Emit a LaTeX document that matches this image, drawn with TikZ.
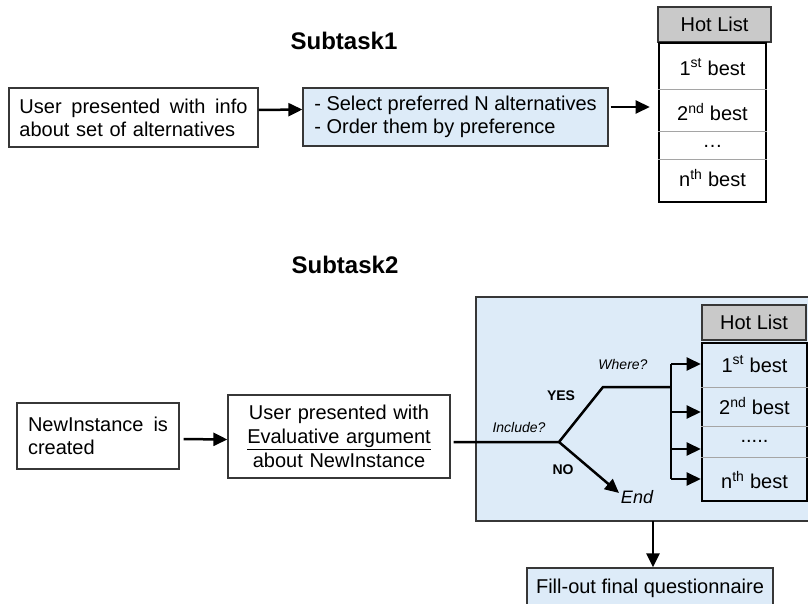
\documentclass[tikz,border=0pt]{standalone}
\usepackage{fontspec}
\setmainfont{Liberation Sans}
\usetikzlibrary{arrows.meta}
\definecolor{lblue}{RGB}{221,235,248}
\definecolor{hgray}{RGB}{201,201,201}
\definecolor{bord}{RGB}{55,55,55}
\definecolor{sepc}{RGB}{165,165,165}
\begin{document}
\begin{tikzpicture}[x=1pt,y=-1pt,
  box/.style={draw=bord, line width=1.3pt, inner sep=0pt, font=\fontsize{20}{23}\selectfont},
  arr/.style={line width=2.5pt, -{Triangle[length=14pt,width=13pt]}},
  ln/.style={line width=2.5pt, line join=round},
  head/.style={draw=bord, line width=1.3pt, fill=hgray, inner sep=0pt, font=\fontsize{20}{23}\selectfont},
  hlist/.style={draw=black, line width=2.6pt, inner sep=0pt},
  sepline/.style={draw=sepc, line width=0.8pt},
  row/.style={inner sep=0pt, font=\fontsize{20}{23}\selectfont},
  lab/.style={inner sep=0pt, font=\fontsize{14}{16}\selectfont\itshape},
  blab/.style={inner sep=0pt, font=\fontsize{14}{16}\selectfont\bfseries},
  title/.style={inner sep=0pt, font=\fontsize{24}{28}\selectfont\bfseries}]
\useasboundingbox (0,0) rectangle (808,604);
\clip (0,0) rectangle (808,604);

% ---------- Subtask 1 ----------
\node[title] (t1) at (344,41) {Subtask1};
\node[box, minimum width=249pt, minimum height=59pt, text width=228pt, align=left] (b1) at (133.5,117.5)
  {User\hfill presented\hfill with\hfill info\\about set of alternatives};
\node[box, fill=lblue, minimum width=305pt, minimum height=58pt, align=left] (b2) at (455.5,117)
  {- Select preferred N alternatives\\- Order them by preference};
\draw[arr] ([yshift=7.5pt]b1.east) -- ([yshift=7.5pt]b2.west);

\node[head, minimum width=113pt, minimum height=35pt] (h1) at (714.5,24.5) {Hot List};
\node[hlist, minimum width=107pt, minimum height=159pt] (l1) at (712.5,122.5) {};
\draw[sepline] (l1.west |- 0,89) -- (l1.east |- 0,89);
\draw[sepline] (l1.west |- 0,131) -- (l1.east |- 0,131);
\draw[sepline] (l1.west |- 0,159) -- (l1.east |- 0,159);
\node[row] (r11) at (712.5,67) {1\textsuperscript{st} best};
\node[row] (r12) at (712.5,112) {2\textsuperscript{nd} best};
\node[row] (r13) at (712.5,146) {\dots};
\node[row] (r14) at (712.5,178) {n\textsuperscript{th} best};
\coordinate (a2s) at ([xshift=2pt,yshift=10pt]b2.east);
\draw[arr, shorten >=8pt] (a2s) -- (a2s -| l1.west);

% ---------- Subtask 2 ----------
\node[title] (t2) at (345,265) {Subtask2};
\node[box, minimum width=162pt, minimum height=66pt, text width=140pt, align=left] (n1) at (98,436)
  {NewInstance\hfill is\\created};
\node[box, minimum width=222pt, minimum height=83pt, text width=205pt, align=center,
      font=\fontsize{20}{24}\selectfont] (n2) at (339,436.5)
  {User presented with\\\underline{Evaluative argument}\\about NewInstance};
\draw[arr, shorten <=4pt] ([yshift=-3pt]n1.east) -- ([yshift=-3pt]n2.west);

\node[draw=bord, line width=1.3pt, fill=lblue, minimum width=340pt, minimum height=224pt, inner sep=0pt] (bb) at (646,409) {};

\node[head, minimum width=104pt, minimum height=35pt] (h2) at (754,322.5) {Hot List};
\node[hlist, fill=lblue, minimum width=105pt, minimum height=158pt] (l2) at (754.5,422) {};
\draw[sepline] (l2.west |- 0,387) -- (l2.east |- 0,387);
\draw[sepline] (l2.west |- 0,426) -- (l2.east |- 0,426);
\draw[sepline] (l2.west |- 0,457) -- (l2.east |- 0,457);
\node[row] (r21) at (754.5,364) {1\textsuperscript{st} best};
\node[row] (r22) at (754.5,406) {2\textsuperscript{nd} best};
\node[row] (r23) at (754.5,441) {.....};
\node[row] (r24) at (754.5,480) {n\textsuperscript{th} best};

\coordinate (ls) at ([xshift=3pt]n2.east);
\coordinate (br) at (559,442);
\coordinate (yk) at (603,387);
\coordinate (vx) at (671,387);
\coordinate (v1) at (671,364);
\coordinate (v2) at (671,412);
\coordinate (v3) at (671,449);
\coordinate (v4) at (671,479);
\draw[ln] (ls |- br) -- (br) -- (yk) -- (vx);
\draw[ln] (v1) -- (v4);
\draw[arr] (v1) -- (v1 -| l2.west);
\draw[arr] (v2) -- (v2 -| l2.west);
\draw[arr] (v3) -- (v3 -| l2.west);
\draw[arr] (v4) -- (v4 -| l2.west);

\node[inner sep=0pt, font=\fontsize{18}{20}\selectfont\itshape] (endl) at (637,497) {End};
\coordinate (ne) at (619,493);
\draw[arr] (br) -- (ne);

\node[lab] (wh) at (623,364) {Where?};
\node[blab] (yes) at (561,396) {YES};
\node[lab] (inc) at (519,427) {Include?};
\node[blab] (no) at (563,470) {NO};

\node[box, fill=lblue, minimum width=246pt, minimum height=40pt] (fq) at (650,588) {Fill-out final questionnaire};
\coordinate (da) at (653,521);
\draw[arr] (da) -- (da |- fq.north);
\end{tikzpicture}
\end{document}
